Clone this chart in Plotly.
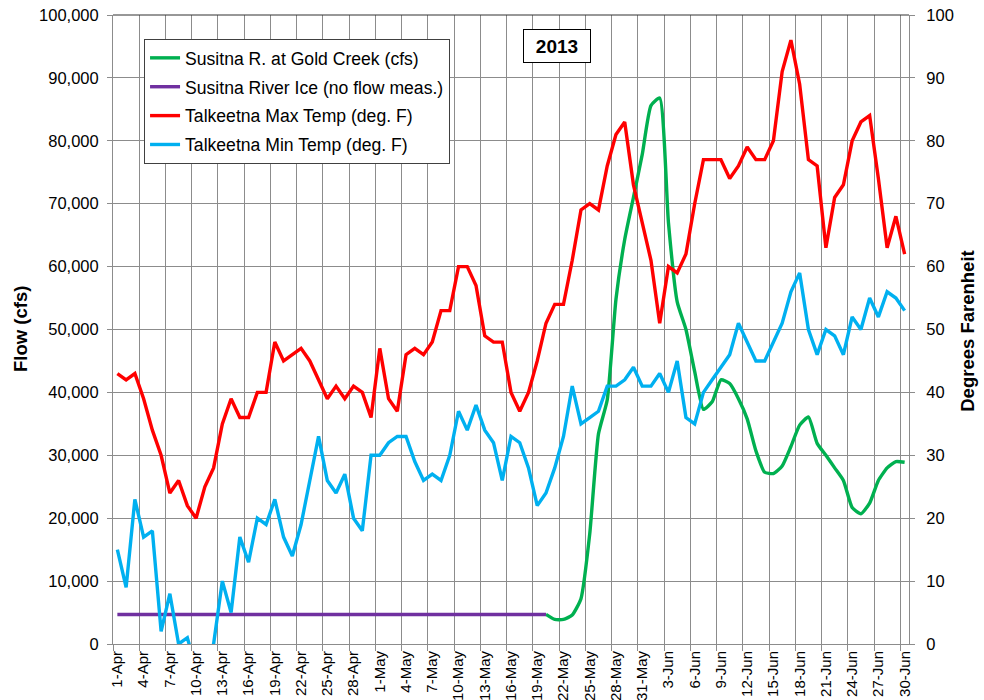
import plotly.graph_objects as go
import datetime as dt

# ---- data ----
start = dt.date(2013, 4, 1)
days = [start + dt.timedelta(days=i) for i in range(91)]
day_labels = [f"{d.day}-{d.strftime('%b')}" for d in days]
idx = list(range(91))

max_temp = [43, 42, 43, 39, 34, 30, 24, 26, 22, 20, 25, 28, 35, 39, 36, 36, 40, 40, 48, 45,
            46, 47, 45, 42, 39, 41, 39, 41, 40, 36, 47, 39, 37, 46, 47, 46, 48, 53, 53, 60,
            60, 57, 49, 48, 48, 40, 37, 40, 45, 51, 54, 54, 61, 69, 70, 69, 76, 81, 83, 73,
            67, 61, 51, 60, 59, 62, 70, 77, 77, 77, 74, 76, 79, 77, 77, 80, 91, 96, 89, 77,
            76, 63, 71, 73, 80, 83, 84, 74, 63, 68, 62]

min_temp = [15, 9, 23, 17, 18, 2, 8, 0, 1, -4, -3, 0, 10, 5, 17, 13, 20, 19, 23, 17,
            14, 19, 26, 33, 26, 24, 27, 20, 18, 30, 30, 32, 33, 33, 29, 26, 27, 26, 30, 37,
            34, 38, 34, 32, 26, 33, 32, 28, 22, 24, 28, 33, 41, 35, 36, 37, 41, 41, 42, 44,
            41, 41, 43, 40, 45, 36, 35, 40, 42, 44, 46, 51, 48, 45, 45, 48, 51, 56, 59, 50,
            46, 50, 49, 46, 52, 50, 55, 52, 56, 55, 53]

flow = [None] * 49 + [4700, 3900, 3900, 4600, 7200, 17500, 33400, 38800, 54800, 64300, 71000,
                      77800, 85600, 86800, 67000, 54400, 50000, 43300, 37300, 38500, 42000,
                      41400, 39000, 35800, 30700, 27300, 27100, 28300, 31400, 34800, 36100,
                      31900, 30000, 28000, 26000, 21700, 20700, 22400, 26000, 28000, 29000,
                      28900]

ice = [4700] * 50 + [None] * 41

tick_idx = list(range(0, 91, 3))
tick_text = [day_labels[i] for i in tick_idx]

FONT = "Arial, Liberation Sans, sans-serif"
GRID = "#8c8c8c"

fig = go.Figure()
fig.add_trace(go.Scatter(x=idx, y=flow, name="Susitna R. at Gold Creek (cfs)", mode="lines",
                         line=dict(color="#00B050", width=3.4, shape="spline", smoothing=0.5),
                         legendgroup="a", yaxis="y"))
fig.add_trace(go.Scatter(x=idx, y=ice, name="Susitna River Ice (no flow meas.)", mode="lines",
                         line=dict(color="#7030A0", width=3.4), legendgroup="b", yaxis="y"))
fig.add_trace(go.Scatter(x=idx, y=max_temp, name="Talkeetna Max Temp (deg. F)", mode="lines",
                         line=dict(color="#FF0000", width=3.4), legendgroup="c", yaxis="y2"))
fig.add_trace(go.Scatter(x=idx, y=min_temp, name="Talkeetna Min Temp (deg. F)", mode="lines",
                         line=dict(color="#00B0F0", width=3.4), legendgroup="d", yaxis="y2"))

fig.update_layout(
    width=984, height=700,
    margin=dict(l=113, r=75, t=15, b=56, autoexpand=False),
    paper_bgcolor="white", plot_bgcolor="white",
    font=dict(family=FONT, size=16, color="black"),
    xaxis=dict(range=[-0.5, 90.5], tickmode="array", tickvals=tick_idx, ticktext=tick_text,
               tickangle=-90, showgrid=False, ticks="", zeroline=False, automargin=False,
               showline=True, linecolor=GRID, linewidth=1,
               tickfont=dict(size=15),
               minor=dict(tick0=-0.5, dtick=3, showgrid=True, gridcolor=GRID, gridwidth=1,
                          ticks="outside", ticklen=6, tickcolor=GRID)),
    yaxis=dict(range=[0, 100000], dtick=10000, tickformat=",", showgrid=True, gridcolor=GRID,
               gridwidth=1, zeroline=False, showline=True, linecolor=GRID, ticks="outside",
               ticklen=5, tickcolor=GRID, tickfont=dict(size=16.5), automargin=False,
               ticklabelstandoff=5),
    yaxis2=dict(range=[0, 100], dtick=10, overlaying="y", side="right", showgrid=False,
                zeroline=False, showline=True, linecolor=GRID, ticks="outside", ticklen=5,
                tickcolor=GRID, tickfont=dict(size=16.5), automargin=False,
                ticklabelstandoff=8),
    legend=dict(x=0.039, y=0.962, xanchor="left", yanchor="top", bgcolor="white",
                bordercolor="#404040", borderwidth=1, font=dict(size=17.6),
                tracegroupgap=3, traceorder="grouped"),
    showlegend=True,
    shapes=[dict(type="line", xref="paper", yref="paper", x0=0, x1=1, y0=1, y1=1,
                 line=dict(color="#303030", width=1))],
    annotations=[
        dict(text="<b>2013</b>", xref="paper", yref="paper", x=0.5574, y=0.9502,
             xanchor="center", yanchor="middle", showarrow=False, font=dict(size=19),
             bordercolor="black", borderwidth=1, borderpad=4, bgcolor="white",
             width=58, height=24),
        dict(text="<b>Flow (cfs)</b>", xref="paper", yref="paper", x=-0.1156, y=0.5008,
             xanchor="center", yanchor="middle", textangle=-90, showarrow=False,
             font=dict(size=18.5)),
        dict(text="<b>Degrees Farenheit</b>", xref="paper", yref="paper", x=1.0741, y=0.498,
             xanchor="center", yanchor="middle", textangle=-90, showarrow=False,
             font=dict(size=18.5)),
    ],
)

fig.write_html("out.html", config={"displayModeBar": False},
               post_script="document.body.style.margin='0';")
